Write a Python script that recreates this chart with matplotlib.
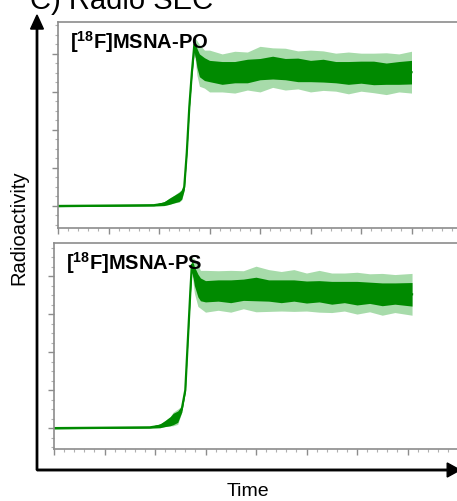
"""
Radio SEC traces for [18F]MSNA-PO and [18F]MSNA-PS (panel C).
Writes out.png (457x501 px).
"""

import numpy as np

import matplotlib
matplotlib.use("Agg")
import matplotlib.pyplot as plt  # noqa: E402
from matplotlib.ticker import MultipleLocator  # noqa: E402

plt.rcParams["font.family"] = ["Liberation Sans", "DejaVu Sans"]
plt.rcParams["mathtext.fontset"] = "custom"
plt.rcParams["mathtext.bf"] = "Liberation Sans:bold"
plt.rcParams["mathtext.rm"] = "Liberation Sans"

# ---------------------------------------------------------------------------
# data (time in major-tick units, signal in y-tick units)
# ---------------------------------------------------------------------------
po_time = [0.0, 1.0, 1.9, 2.1, 2.2, 2.3, 2.4, 2.45, 2.5, 2.55, 2.6, 2.65,
           2.7, 2.75, 2.8, 2.9, 3.0, 3.25, 3.5, 3.75, 4.0, 4.25, 4.5, 4.75,
           5.0, 5.25, 5.5, 5.75, 6.0, 6.25, 6.5, 6.75, 7.0]
po_signal = [0.0, 0.01, 0.02, 0.06, 0.12, 0.18, 0.24, 0.30, 0.5, 1.4, 2.6,
             3.5, 4.25, 3.9, 3.7, 3.6, 3.55, 3.5, 3.52, 3.55, 3.6, 3.64,
             3.6, 3.58, 3.55, 3.56, 3.52, 3.5, 3.52, 3.5, 3.48, 3.5, 3.52]
po_band = [0.02, 0.02, 0.02, 0.05, 0.08, 0.1, 0.12, 0.12, 0.08, 0.05, 0.05,
           0.08, 0.15, 0.25, 0.3, 0.3, 0.28, 0.3, 0.28, 0.31, 0.28, 0.3,
           0.28, 0.31, 0.28, 0.3, 0.28, 0.3, 0.29, 0.31, 0.28, 0.3, 0.31]
po_spike = [0.02, 0.02, 0.02, 0.05, 0.08, 0.1, 0.14, 0.14, 0.08, 0.05, 0.05,
            0.1, 0.2, 0.45, 0.55, 0.5, 0.55, 0.5, 0.55, 0.5, 0.6, 0.52,
            0.55, 0.5, 0.55, 0.52, 0.5, 0.55, 0.5, 0.52, 0.55, 0.5, 0.55]

ps_time = [0.0, 1.0, 1.9, 2.1, 2.2, 2.3, 2.36, 2.45, 2.53, 2.6, 2.65, 2.7,
           2.73, 2.78, 2.85, 2.9, 3.0, 3.25, 3.5, 3.75, 4.0, 4.25, 4.5, 4.75,
           5.0, 5.25, 5.5, 5.75, 6.0, 6.25, 6.5, 6.75, 7.09]
ps_signal = [0.0, 0.01, 0.02, 0.06, 0.12, 0.18, 0.24, 0.3, 0.5, 1.0, 2.3,
             3.6, 4.3, 4.0, 3.75, 3.65, 3.6, 3.62, 3.6, 3.64, 3.66, 3.62,
             3.6, 3.62, 3.58, 3.6, 3.56, 3.58, 3.55, 3.56, 3.52, 3.54, 3.52]
ps_band = [0.02, 0.02, 0.02, 0.05, 0.08, 0.12, 0.15, 0.15, 0.08, 0.05, 0.05,
           0.08, 0.15, 0.25, 0.3, 0.3, 0.28, 0.28, 0.3, 0.28, 0.31, 0.28,
           0.3, 0.28, 0.29, 0.28, 0.3, 0.28, 0.31, 0.28, 0.3, 0.28, 0.31]
ps_spike = [0.02, 0.02, 0.02, 0.05, 0.08, 0.12, 0.18, 0.2, 0.08, 0.05, 0.05,
            0.1, 0.2, 0.45, 0.55, 0.5, 0.55, 0.52, 0.55, 0.5, 0.6, 0.55,
            0.52, 0.55, 0.5, 0.55, 0.52, 0.5, 0.55, 0.5, 0.55, 0.5, 0.55]

panel_labels = [r"[$^{\mathbf{18}}$F]MSNA-PO", r"[$^{\mathbf{18}}$F]MSNA-PS"]

TRACE = "#008a00"
LIGHT = "#3cb043"
SPINE = "#8c8c8c"


def _draw_panel(ax, t, y, band, spike, label, ylim):
    t = np.asarray(t); y = np.asarray(y)
    band = np.asarray(band); spike = np.asarray(spike)
    ax.fill_between(t, y - spike, y + spike, color=LIGHT, alpha=0.45, lw=0)
    ax.fill_between(t, y - band, y + band, color=TRACE, lw=0)
    ax.plot(t, y, color=TRACE, lw=1.6)
    ax.set_xlim(0, 8)
    ax.set_ylim(*ylim)
    ax.xaxis.set_major_locator(MultipleLocator(1))
    ax.xaxis.set_minor_locator(MultipleLocator(0.2))
    ax.yaxis.set_major_locator(MultipleLocator(1))
    ax.yaxis.set_minor_locator(MultipleLocator(0.25))
    ax.tick_params(which="major", direction="out", length=4, width=1,
                   color=SPINE, labelbottom=False, labelleft=False)
    ax.tick_params(which="minor", direction="out", length=2, width=0.8,
                   color="#b0b0b0")
    for s in ax.spines.values():
        s.set_color(SPINE); s.set_linewidth(1.2)
    ax.text(0.03, 0.965, label, transform=ax.transAxes, fontsize=14.5,
            fontweight="bold", va="top", ha="left")


fig = plt.figure(figsize=(4.57, 5.01), dpi=100)
W, H = 457.0, 501.0

ax1 = fig.add_axes([58 / W, (H - 228) / H, 404 / W, 206 / H])
_draw_panel(ax1, po_time, po_signal, po_band, po_spike, panel_labels[0],
            (-0.58, 4.84))
ax2 = fig.add_axes([54 / W, (H - 449) / H, 404 / W, 206 / H])
_draw_panel(ax2, ps_time, ps_signal, ps_band, ps_spike, panel_labels[1],
            (-0.55, 4.87))

# big outer axis arrows
x0, y0 = 37 / W, (H - 470) / H
fig.add_artist(matplotlib.patches.FancyArrow(
    x0, y0, 0, (H - 15) / H - y0, width=0.003, head_width=0.028,
    head_length=0.028, length_includes_head=True, color="black",
    transform=fig.transFigure))
fig.add_artist(matplotlib.patches.FancyArrow(
    x0, y0, 460 / W - x0, 0, width=0.003, head_width=0.028,
    head_length=0.028, length_includes_head=True, color="black",
    transform=fig.transFigure))

fig.text(19 / W, 1 - 228 / H, "Radioactivity", rotation=90, fontsize=14.5,
         ha="center", va="center")
fig.text(248 / W, 1 - 492 / H, "Time", fontsize=14, ha="center",
         va="center")
fig.text(30 / W, 1 - 9 / H, "C) Radio SEC", fontsize=21, ha="left",
         va="baseline")

fig.savefig("out.png", dpi=100)
plt.close(fig)
